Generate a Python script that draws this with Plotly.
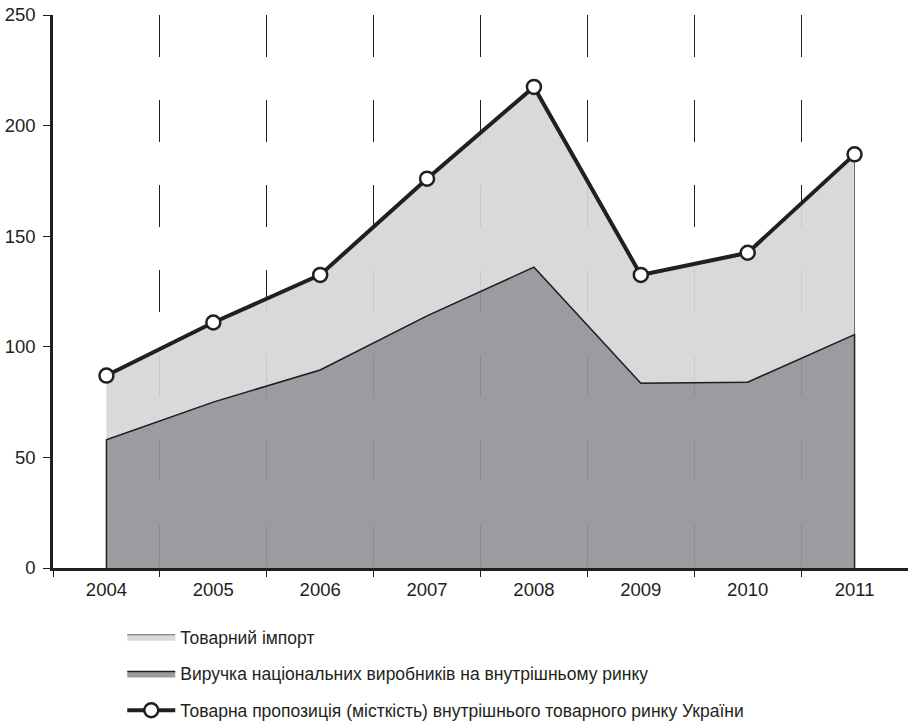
import plotly.graph_objects as go

years = ["2004", "2005", "2006", "2007", "2008", "2009", "2010", "2011"]
national_revenue = [58, 75, 89.5, 114, 136, 83.5, 84, 105.5]
total_supply = [87, 111, 132.5, 176, 217.5, 132.5, 142.5, 187]
y_ticks = [0, 50, 100, 150, 200, 250]

names = [
    "Товарний імпорт",
    "Виручка національних виробників на внутрішньому ринку",
    "Товарна пропозиція (місткість) внутрішнього товарного ринку України",
]

ink = "#231f20"
family = "Liberation Sans, Arial, sans-serif"
tick_font = dict(family=family, size=18.5, color=ink)
legend_font = dict(family=family, size=17.5, color=ink)

fig = go.Figure()

# imports: band between the revenue and the total supply
fig.add_trace(go.Scatter(
    x=years + years[::-1],
    y=total_supply + national_revenue[::-1],
    mode="lines", fill="toself",
    fillcolor="rgba(213,214,216,0.93)",
    line=dict(color="rgba(90,90,90,0.9)", width=1),
    name=names[0], legendgroup="imp", hoverinfo="skip",
))

# domestic producers' revenue: closed polygon down to zero
fig.add_trace(go.Scatter(
    x=[years[0]] + years + [years[-1]],
    y=[0] + national_revenue + [0],
    mode="lines", fill="toself",
    fillcolor="rgba(148,149,153,0.93)",
    line=dict(color=ink, width=1.5),
    name=names[1], legendgroup="rev", hoverinfo="skip",
))

# total market supply
fig.add_trace(go.Scatter(
    x=years, y=total_supply,
    mode="lines+markers",
    line=dict(color=ink, width=4),
    marker=dict(symbol="circle", size=14, color="white",
                line=dict(color=ink, width=2.5)),
    name=names[2], legendgroup="tot",
))

fig.update_layout(
    width=908, height=723,
    margin=dict(l=53, r=0, t=15, b=155, autoexpand=False),
    paper_bgcolor="white", plot_bgcolor="white",
    font=legend_font,
    showlegend=True,
    legend=dict(
        x=0.081, y=-0.092, xanchor="left", yanchor="top",
        orientation="v", traceorder="grouped",
        font=legend_font,
        itemwidth=48, tracegroupgap=11,
        bgcolor="rgba(0,0,0,0)",
    ),
    xaxis=dict(
        type="category", range=[-0.5, 7.5],
        tickson="boundaries", ticks="outside", ticklen=6, tickwidth=1.2,
        tickcolor=ink, ticklabelstandoff=3,
        showline=True, linecolor=ink, linewidth=2.5,
        showgrid=True, gridcolor=ink, gridwidth=1.2, griddash="42px,43px",
        tickfont=tick_font, fixedrange=True,
    ),
    yaxis=dict(
        range=[0, 250], tickvals=y_ticks,
        ticks="outside", ticklen=7, tickwidth=1.2, tickcolor=ink,
        ticklabelstandoff=4,
        showline=True, linecolor=ink, linewidth=2.5,
        showgrid=False, zeroline=False,
        tickfont=tick_font, fixedrange=True,
    ),
)

fig.write_html("out.html")
